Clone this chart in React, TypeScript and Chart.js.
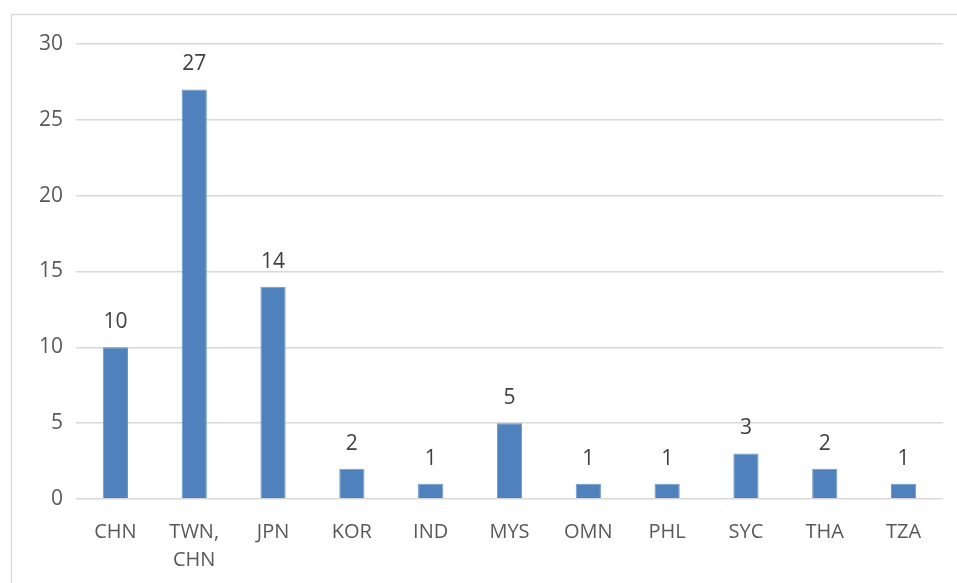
import React, { useEffect, useRef } from "react";
import { Chart, registerables } from "chart.js";

Chart.register(...registerables);

const categories: (string | string[])[] = ["CHN", ["TWN,", "CHN"], "JPN", "KOR", "IND", "MYS", "OMN", "PHL", "SYC", "THA", "TZA"];
const values: number[] = [10, 27, 14, 2, 1, 5, 1, 1, 3, 2, 1];
const yTicks: number[] = [0, 5, 10, 15, 20, 25, 30];

const FONT = "'Open Sans', 'Liberation Sans', sans-serif";

const frame = {
  id: "frame",
  beforeDraw(chart: any) {
    const ctx = chart.ctx;
    ctx.save();
    ctx.strokeStyle = "#D9D9D9";
    ctx.lineWidth = 1.3;
    ctx.strokeRect(11.5, 14.5, 2000, 2000);
    ctx.restore();
  },
};

const labelsPlugin = {
  id: "barLabels",
  afterDatasetsDraw(chart: any) {
    const ctx = chart.ctx;
    const meta = chart.getDatasetMeta(0);
    ctx.save();
    ctx.fillStyle = "#404040";
    ctx.font = `21px ${FONT}`;
    ctx.textAlign = "center";
    ctx.textBaseline = "middle";
    meta.data.forEach((bar: any, i: number) => {
      ctx.fillText(String(values[i]), bar.x, bar.y - 25);
    });
    ctx.restore();
  },
};

export default function App() {
  const ref = useRef<HTMLCanvasElement>(null);
  useEffect(() => {
    if (!ref.current) return;
    const chart = new Chart(ref.current, {
      type: "bar",
      data: {
        labels: categories,
        datasets: [
          {
            data: values,
            backgroundColor: "#4F81BD",
            borderColor: "#6F97C9",
            borderWidth: 1,
            barPercentage: 0.4,
            categoryPercentage: 0.8,
          },
        ],
      },
      options: {
        animation: false,
        responsive: false,
        maintainAspectRatio: false,
        layout: { padding: { left: 0, right: 14, top: 44, bottom: 0 } },
        plugins: { legend: { display: false }, tooltip: { enabled: false } },
        scales: {
          x: {
            grid: { display: false, drawTicks: false },
            border: { display: false },
            ticks: {
              color: "#595959",
              font: { family: FONT, size: 20, lineHeight: 1.4 },
              padding: 19,
              maxRotation: 0,
              autoSkip: false,
            },
            afterFit(scale: any) {
              scale.height = 84;
            },
          },
          y: {
            min: 0,
            max: 30,
            afterBuildTicks(scale: any) {
              scale.ticks = yTicks.map((v) => ({ value: v }));
            },
            grid: { color: "#D9D9D9", lineWidth: 1.5, drawTicks: false },
            border: { display: false },
            ticks: {
              color: "#595959",
              font: { family: FONT, size: 21 },
              padding: 13,
            },
            afterFit(scale: any) {
              scale.width = 76;
            },
          },
        },
      },
      plugins: [frame, labelsPlugin],
    });
    return () => chart.destroy();
  }, []);
  return (
    <div style={{ position: "fixed", left: 0, top: 0, width: 957, height: 583, background: "#fff" }}>
      <canvas ref={ref} width={957} height={583} style={{ display: "block" }} />
    </div>
  );
}
